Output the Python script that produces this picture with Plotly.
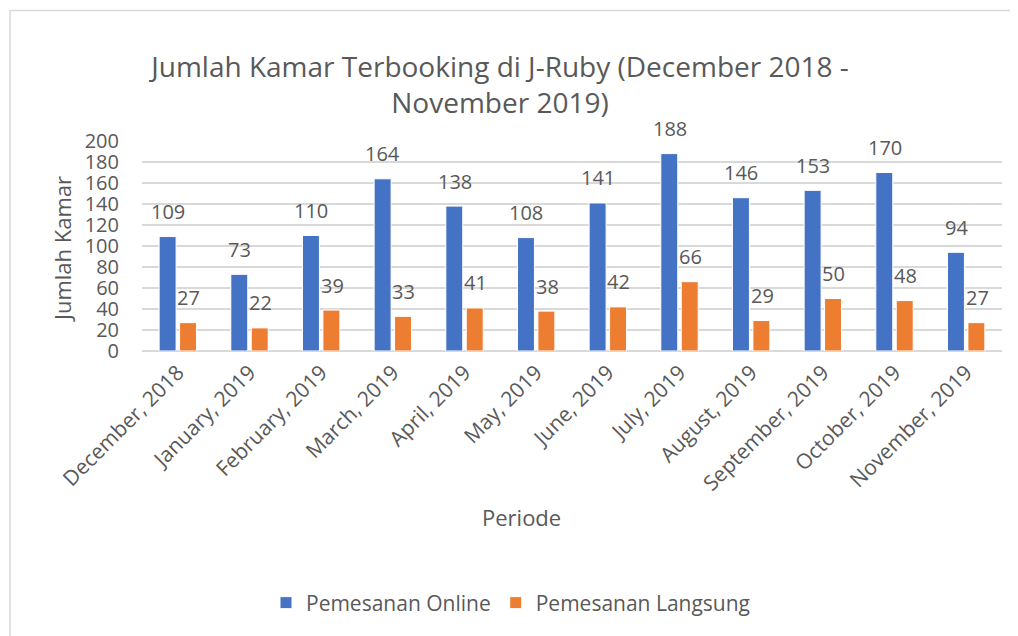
import plotly.graph_objects as go

categories = ["December, 2018", "January, 2019", "February, 2019", "March, 2019",
              "April, 2019", "May, 2019", "June, 2019", "July, 2019",
              "August, 2019", "September, 2019", "October, 2019", "November, 2019"]
online = [109, 73, 110, 164, 138, 108, 141, 188, 146, 153, 170, 94]
langsung = [27, 22, 39, 33, 41, 38, 42, 66, 29, 50, 48, 27]
y_ticks = [0, 20, 40, 60, 80, 100, 120, 140, 160, 180, 200]

FONT = "'Open Sans', Lato, sans-serif"
TXT = "#595959"
OFF = 8  # page body margin
W, H = 1018 - OFF, 636 - OFF
# targets in screen pixels
PL, PR, PT, PB = 142, 1002, 141, 351
L, T = PL - OFF, PT - OFF
R = W - (PR - OFF)
B = H - (PB - OFF)
PW, PH = PR - PL, PB - PT

def px(x):
    return (x - PL) / PW

def py(y):
    return (PB - y) / PH

fig = go.Figure()
fig.add_trace(go.Bar(name="Pemesanan Online", x=categories, y=online,
                     marker=dict(color="#4472C4", line=dict(color="white", width=1))))
fig.add_trace(go.Bar(name="Pemesanan Langsung", x=categories, y=langsung,
                     marker=dict(color="#ED7D31", line=dict(color="white", width=1))))

annotations = []
for c, v in zip(categories, online):
    annotations.append(dict(x=c, y=v, xref="x", yref="y", text=str(v), showarrow=False,
                            xshift=-10, yshift=25, yanchor="middle",
                            font=dict(family=FONT, size=20, color=TXT)))
for c, v in zip(categories, langsung):
    annotations.append(dict(x=c, y=v, xref="x", yref="y", text=str(v), showarrow=False,
                            xshift=11, yshift=25, yanchor="middle",
                            font=dict(family=FONT, size=20, color=TXT)))

annotations.append(dict(x=px(62), y=py(249), xref="paper", yref="paper", text="Jumlah Kamar",
                        textangle=-90, showarrow=False, xanchor="center", yanchor="middle",
                        font=dict(family=FONT, size=22, color=TXT)))
annotations.append(dict(x=px(521), y=py(517), xref="paper", yref="paper", text="Periode",
                        showarrow=False, xanchor="center", yanchor="middle",
                        font=dict(family=FONT, size=22, color=TXT)))

fig.update_layout(
    width=W, height=H,
    margin=dict(l=L, r=R, t=T, b=B, autoexpand=False),
    paper_bgcolor="white", plot_bgcolor="white",
    barmode="group", bargap=0.43, bargroupgap=0.17,
    title=dict(text="Jumlah Kamar Terbooking di J-Ruby (December 2018 -<br>November 2019)",
               x=(500 - OFF) / W, y=1 - (77 - OFF) / H, xanchor="center", yanchor="middle",
               xref="container", yref="container",
               font=dict(family=FONT, size=28, color=TXT)),
    xaxis=dict(tickangle=-45, showgrid=False, showline=False, zeroline=False,
               tickfont=dict(family=FONT, size=21, color=TXT), ticks="",
               ticklabelstandoff=4),
    yaxis=dict(range=[0, 200], tickvals=y_ticks, showgrid=True, gridcolor="#D9D9D9",
               gridwidth=1.5, zeroline=True, zerolinecolor="#D9D9D9", zerolinewidth=1.5,
               showline=False, ticks="", ticklabelstandoff=22,
               tickfont=dict(family=FONT, size=20, color=TXT)),
    legend=dict(orientation="h", x=px(511), xanchor="center", y=py(603), yanchor="middle",
                font=dict(family=FONT, size=21, color=TXT), itemwidth=30,
                traceorder="normal"),
    annotations=annotations,
    showlegend=True,
)
fig.add_shape(type="rect", xref="paper", yref="paper",
              x0=px(10), x1=px(1040), y0=py(670), y1=py(10.5),
              line=dict(color="#D9D9D9", width=1.5), fillcolor="rgba(0,0,0,0)", layer="below")

fig.write_html("out.html")
